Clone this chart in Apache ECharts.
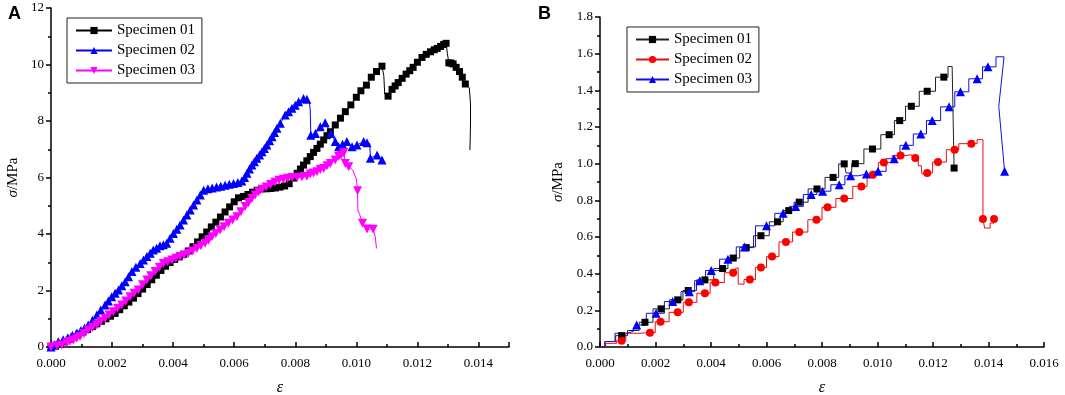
<!DOCTYPE html>
<html>
<head>
<meta charset="utf-8">
<script src="https://cdn.jsdelivr.net/npm/echarts@6/dist/echarts.min.js"></script>
<style>
  html, body { margin: 0; padding: 0; background: #fff; }
  #chartA { position: absolute; left: 0; top: 0; width: 530px; height: 395px; }
  #chartB { position: absolute; left: 530px; top: 0; width: 535px; height: 395px; }
</style>
</head>
<body>
<div id="chartA"></div>
<div id="chartB"></div>
<script>
// each point: [strain, stress (MPa), marker shown 1/0]
// panel A
var a01 = [
  [0.00000,0.00,1],[0.00015,0.03,1],[0.00030,0.10,1],[0.00045,0.18,1],[0.00060,0.27,1],[0.00075,0.36,1],
  [0.00090,0.45,1],[0.00105,0.53,1],[0.00120,0.62,1],[0.00135,0.72,1],[0.00150,0.82,1],[0.00165,0.91,1],
  [0.00180,1.00,1],[0.00195,1.09,1],[0.00210,1.19,1],[0.00225,1.32,1],[0.00240,1.46,1],[0.00255,1.59,1],
  [0.00270,1.73,1],[0.00285,1.89,1],[0.00300,2.05,1],[0.00315,2.21,1],[0.00330,2.38,1],[0.00345,2.54,1],
  [0.00360,2.71,1],[0.00375,2.86,1],[0.00390,2.99,1],[0.00405,3.10,1],[0.00420,3.19,1],[0.00435,3.28,1],
  [0.00450,3.40,1],[0.00465,3.55,1],[0.00480,3.72,1],[0.00495,3.90,1],[0.00510,4.07,1],[0.00525,4.25,1],
  [0.00540,4.42,1],[0.00555,4.60,1],[0.00570,4.78,1],[0.00585,4.96,1],[0.00600,5.14,1],[0.00614,5.28,1],
  [0.00630,5.33,1],[0.00645,5.40,1],[0.00660,5.48,1],[0.00675,5.55,1],[0.00690,5.60,1],[0.00705,5.60,1],
  [0.00720,5.61,1],[0.00735,5.63,1],[0.00750,5.66,1],[0.00765,5.70,1],[0.00780,5.78,1],[0.00795,5.98,1],
  [0.00806,6.15,1],[0.00817,6.30,1],[0.00827,6.44,1],[0.00838,6.59,1],[0.00849,6.74,1],[0.00860,6.89,1],
  [0.00871,7.03,1],[0.00882,7.18,1],[0.00893,7.33,1],[0.00904,7.48,1],[0.00915,7.62,1],[0.00931,7.86,1],
  [0.00948,8.10,1],[0.00964,8.33,1],[0.00982,8.57,1],[0.01000,8.84,1],[0.01015,9.07,1],[0.01033,9.27,1],
  [0.01049,9.55,1],[0.01066,9.75,1],[0.01084,9.94,1],[0.01090,9.60,0],[0.01093,8.95,0],[0.01104,8.88,1],
  [0.01117,9.12,1],[0.01127,9.24,1],[0.01137,9.36,1],[0.01150,9.51,1],[0.01163,9.66,1],[0.01175,9.78,1],
  [0.01186,9.90,1],[0.01200,10.08,1],[0.01215,10.25,1],[0.01229,10.36,1],[0.01243,10.45,1],[0.01255,10.52,1],
  [0.01265,10.57,1],[0.01276,10.64,1],[0.01286,10.71,1],[0.01294,10.75,1],[0.01298,10.40,0],[0.01303,10.06,1],
  [0.01310,10.05,1],[0.01317,10.02,1],[0.01327,9.90,1],[0.01338,9.75,1],[0.01347,9.55,1],[0.01357,9.31,1],
  [0.01370,9.18,0],[0.01374,8.60,0],[0.01374,8.00,0],[0.01373,7.40,0],[0.01372,6.97,0]
];
var a02 = [
  [0.00000,0.00,1],[0.00012,0.08,1],[0.00024,0.19,1],[0.00040,0.26,1],[0.00055,0.33,1],[0.00070,0.42,1],
  [0.00085,0.50,1],[0.00098,0.58,1],[0.00110,0.67,1],[0.00122,0.78,1],[0.00136,0.95,1],[0.00150,1.13,1],
  [0.00163,1.31,1],[0.00177,1.49,1],[0.00188,1.63,1],[0.00199,1.78,1],[0.00210,1.90,1],[0.00221,2.02,1],
  [0.00232,2.17,1],[0.00243,2.31,1],[0.00254,2.49,1],[0.00265,2.67,1],[0.00278,2.82,1],[0.00292,2.96,1],
  [0.00303,3.08,1],[0.00314,3.20,1],[0.00325,3.32,1],[0.00335,3.43,1],[0.00346,3.50,1],[0.00357,3.58,1],
  [0.00368,3.62,1],[0.00379,3.67,1],[0.00390,3.85,1],[0.00401,4.02,1],[0.00412,4.17,1],[0.00423,4.32,1],
  [0.00434,4.50,1],[0.00445,4.67,1],[0.00456,4.85,1],[0.00467,5.03,1],[0.00478,5.20,1],[0.00489,5.38,1],
  [0.00500,5.55,1],[0.00514,5.60,1],[0.00528,5.63,1],[0.00542,5.66,1],[0.00556,5.69,1],[0.00570,5.73,1],
  [0.00584,5.76,1],[0.00598,5.79,1],[0.00612,5.82,1],[0.00625,5.88,1],[0.00634,6.00,1],[0.00642,6.15,1],
  [0.00650,6.30,1],[0.00658,6.44,1],[0.00666,6.56,1],[0.00674,6.68,1],[0.00683,6.80,1],[0.00691,6.91,1],
  [0.00699,7.03,1],[0.00707,7.15,1],[0.00716,7.30,1],[0.00724,7.44,1],[0.00732,7.59,1],[0.00740,7.74,1],
  [0.00751,7.92,1],[0.00767,8.21,1],[0.00778,8.33,1],[0.00789,8.45,1],[0.00800,8.56,1],[0.00811,8.68,1],
  [0.00827,8.80,1],[0.00838,8.77,1],[0.00846,8.70,0],[0.00849,8.39,0],[0.00851,7.50,1],[0.00866,7.56,1],
  [0.00882,7.80,1],[0.00898,7.94,1],[0.00917,7.56,1],[0.00931,7.27,1],[0.00942,7.09,1],[0.00955,7.18,1],
  [0.00969,7.27,1],[0.00986,7.09,1],[0.01002,7.15,1],[0.01024,7.27,1],[0.01035,7.23,1],[0.01044,7.20,0],
  [0.01046,6.68,1],[0.01068,6.80,1],[0.01084,6.62,1]
];
var a03 = [
  [0.00000,0.00,1],[0.00020,0.04,1],[0.00035,0.07,1],[0.00051,0.15,1],[0.00062,0.20,1],[0.00073,0.25,1],
  [0.00084,0.31,1],[0.00095,0.37,1],[0.00108,0.48,1],[0.00122,0.60,1],[0.00136,0.69,1],[0.00150,0.78,1],
  [0.00163,0.90,1],[0.00177,1.01,1],[0.00190,1.13,1],[0.00204,1.25,1],[0.00218,1.37,1],[0.00232,1.49,1],
  [0.00245,1.63,1],[0.00259,1.78,1],[0.00272,1.90,1],[0.00286,2.02,1],[0.00300,2.20,1],[0.00314,2.37,1],
  [0.00327,2.52,1],[0.00341,2.67,1],[0.00355,2.82,1],[0.00368,2.96,1],[0.00382,3.02,1],[0.00396,3.08,1],
  [0.00409,3.14,1],[0.00423,3.20,1],[0.00436,3.26,1],[0.00450,3.32,1],[0.00464,3.40,1],[0.00478,3.49,1],
  [0.00491,3.58,1],[0.00505,3.67,1],[0.00516,3.78,1],[0.00527,3.90,1],[0.00540,4.02,1],[0.00554,4.14,1],
  [0.00567,4.26,1],[0.00581,4.38,1],[0.00595,4.50,1],[0.00609,4.61,1],[0.00622,4.79,1],[0.00636,4.97,1],
  [0.00647,5.11,1],[0.00658,5.26,1],[0.00669,5.38,1],[0.00680,5.50,1],[0.00692,5.58,1],[0.00705,5.66,1],
  [0.00719,5.75,1],[0.00733,5.83,1],[0.00747,5.90,1],[0.00761,5.94,1],[0.00775,5.97,1],[0.00790,6.00,1],
  [0.00806,6.00,1],[0.00822,6.02,1],[0.00838,6.04,1],[0.00849,6.12,1],[0.00860,6.16,1],[0.00871,6.20,1],
  [0.00882,6.28,1],[0.00893,6.32,1],[0.00904,6.42,1],[0.00915,6.50,1],[0.00931,6.62,1],[0.00942,6.74,1],
  [0.00950,6.80,1],[0.00959,6.88,1],[0.00964,6.50,1],[0.00975,6.38,1],[0.00988,6.27,0],[0.01000,5.95,0],
  [0.01004,5.53,1],[0.01005,4.85,0],[0.01010,4.72,0],[0.01020,4.38,1],[0.01035,4.18,1],[0.01055,4.17,1],
  [0.01062,3.90,0],[0.01066,3.49,0]
];
// panel B
var b01 = [
  [0.00000,0.000,0],[0.00035,0.030,0],[0.00078,0.062,1],[0.00120,0.090,0],[0.00162,0.135,1],[0.00220,0.208,1],
  [0.00280,0.257,1],[0.00318,0.308,1],[0.00378,0.366,1],[0.00442,0.428,1],[0.00480,0.485,1],[0.00527,0.542,1],
  [0.00580,0.607,1],[0.00640,0.683,1],[0.00680,0.744,1],[0.00718,0.790,1],[0.00782,0.862,1],[0.00840,0.925,1],
  [0.00880,0.999,1],[0.00894,0.949,0],[0.00920,1.000,1],[0.00982,1.080,1],[0.01042,1.158,1],[0.01080,1.235,1],
  [0.01122,1.313,1],[0.01179,1.395,1],[0.01239,1.472,1],[0.01269,1.530,0],[0.01276,1.532,0],[0.01276,0.976,1]
];
var b02 = [
  [0.00000,0.000,0],[0.00040,0.020,0],[0.00078,0.034,1],[0.00108,0.075,0],[0.00180,0.078,1],[0.00218,0.138,1],
  [0.00280,0.189,1],[0.00320,0.244,1],[0.00378,0.293,1],[0.00416,0.352,1],[0.00480,0.405,1],[0.00498,0.430,0],
  [0.00498,0.343,0],[0.00540,0.368,1],[0.00580,0.434,1],[0.00620,0.493,1],[0.00670,0.573,1],[0.00718,0.627,1],
  [0.00780,0.694,1],[0.00820,0.762,1],[0.00880,0.810,1],[0.00942,0.876,1],[0.00983,0.940,1],[0.01023,1.007,1],
  [0.01083,1.044,1],[0.01122,1.049,0],[0.01136,1.031,1],[0.01158,0.989,0],[0.01161,0.945,0],[0.01179,0.949,1],
  [0.01218,1.009,1],[0.01278,1.076,1],[0.01308,1.109,0],[0.01338,1.109,1],[0.01380,1.131,0],[0.01380,0.698,1],
  [0.01392,0.649,0],[0.01420,0.676,0],[0.01420,0.698,1]
];
var b03 = [
  [0.00000,0.000,0],[0.00036,0.030,0],[0.00072,0.075,0],[0.00120,0.085,0],[0.00132,0.120,1],[0.00202,0.184,1],
  [0.00262,0.248,1],[0.00322,0.302,1],[0.00360,0.362,1],[0.00401,0.417,1],[0.00461,0.479,1],[0.00521,0.546,1],
  [0.00600,0.661,1],[0.00660,0.729,1],[0.00705,0.767,1],[0.00761,0.832,1],[0.00802,0.850,1],[0.00862,0.885,1],
  [0.00903,0.934,1],[0.00960,0.943,1],[0.01002,0.958,1],[0.01060,1.027,1],[0.01102,1.100,1],[0.01156,1.162,1],
  [0.01197,1.235,1],[0.01258,1.310,1],[0.01299,1.392,1],[0.01359,1.463,1],[0.01398,1.528,1],[0.01456,1.583,0]
];
var b03tail = [[0.01456,1.583,0],[0.01437,1.313,0],[0.01458,0.958,1]];

var names = ['Specimen 01', 'Specimen 02', 'Specimen 03'];
var yTicksA = [0, 12, 2];
var yTicksB = [0, 1.8, 0.2];
var xTicksA = [0, 0.015, 0.002];
var xTicksB = [0, 0.016, 0.002];

var serif = 'Liberation Serif';
var downTri = 'path://M0,0 L10,0 L5,9 Z';

function pts(arr) {
  return arr.map(function (p) {
    var d = { value: [p[0], p[1]] };
    if (!p[2]) d.symbol = 'none';
    return d;
  });
}

function isMajor(v, step) {
  return Math.abs(v / step - Math.round(v / step)) < 1e-6;
}

function axes(xt, yt, yDigits, yGap) {
  return {
    xAxis: {
      type: 'value', min: xt[0], max: xt[1], interval: xt[2],
      name: 'ε', nameLocation: 'middle', nameGap: 33,
      nameTextStyle: { fontFamily: serif, fontStyle: 'italic', fontSize: 16, color: '#000' },
      axisLine: { onZero: false, lineStyle: { color: '#000', width: 1.5 } },
      axisTick: { inside: true, length: 5, lineStyle: { color: '#000', width: 1.5 } },
      minorTick: { show: true, splitNumber: 2, length: 3, lineStyle: { color: '#000', width: 1.5 } },
      axisLabel: {
        margin: 10, fontFamily: serif, fontSize: 13, color: '#000',
        formatter: function (v) { return isMajor(v, xt[2]) ? v.toFixed(3) : ''; }
      },
      splitLine: { show: false }
    },
    yAxis: {
      type: 'value', min: yt[0], max: yt[1], interval: yt[2],
      name: '{i|σ}/MPa', nameLocation: 'middle', nameGap: yGap,
      nameTextStyle: {
        fontFamily: serif, fontSize: 15, color: '#000',
        rich: { i: { fontFamily: serif, fontStyle: 'italic', fontSize: 15, color: '#000' } }
      },
      axisLine: { show: true, onZero: false, lineStyle: { color: '#000', width: 1.5 } },
      axisTick: { show: true, length: 5, lineStyle: { color: '#000', width: 1.5 } },
      minorTick: { show: true, splitNumber: 2, length: 3, lineStyle: { color: '#000', width: 1.5 } },
      axisLabel: {
        margin: 7, fontFamily: serif, fontSize: 13, color: '#000',
        formatter: function (v) { return v.toFixed(yDigits); }
      },
      splitLine: { show: false }
    }
  };
}

function legendAt(left, top, w) {
  return {
    orient: 'vertical', left: left, top: top,
    data: names,
    backgroundColor: '#fff', borderColor: '#222', borderWidth: 1, borderRadius: 0,
    padding: [5, 7, 5, 8], itemGap: 5, itemWidth: w, itemHeight: 9,
    textStyle: { fontFamily: serif, fontSize: 15, color: '#000' }
  };
}

function title(t) {
  return {
    text: t, left: 8, top: 5, padding: 0,
    textStyle: { fontFamily: 'Liberation Sans', fontWeight: 'bold', fontSize: 18, color: '#000' }
  };
}

// ---- panel A ----
var chartA = echarts.init(document.getElementById('chartA'));
var axA = axes(xTicksA, yTicksA, 0, 22);
chartA.setOption({
  animation: false,
  title: title('A'),
  grid: { left: 51, top: 8, right: 21, bottom: 48, outerBoundsMode: 'none' },
  legend: legendAt(67, 18, 36),
  xAxis: axA.xAxis,
  yAxis: axA.yAxis,
  series: [
    { name: names[0], type: 'line', data: pts(a01), symbol: 'rect', symbolSize: 7,
      color: '#000', lineStyle: { width: 1, color: '#000' } },
    { name: names[1], type: 'line', data: pts(a02), symbol: 'triangle', symbolSize: 9,
      color: '#0000ff', lineStyle: { width: 1, color: '#0000ff' } },
    { name: names[2], type: 'line', data: pts(a03), symbol: downTri, symbolSize: 9,
      color: '#ff00ff', lineStyle: { width: 1, color: '#ff00ff' } }
  ]
});

// ---- panel B ----
var chartB = echarts.init(document.getElementById('chartB'));
var axB = axes(xTicksB, yTicksB, 1, 34);
chartB.setOption({
  animation: false,
  title: title('B'),
  grid: { left: 70, top: 17, right: 21, bottom: 48, outerBoundsMode: 'none' },
  legend: legendAt(97, 27, 33),
  xAxis: axB.xAxis,
  yAxis: axB.yAxis,
  series: [
    { name: names[0], type: 'line', step: 'middle', data: pts(b01), symbol: 'rect', symbolSize: 7,
      color: '#000', lineStyle: { width: 1, color: '#222' } },
    { name: names[1], type: 'line', step: 'middle', data: pts(b02), symbol: 'circle', symbolSize: 8,
      color: '#ff0000', lineStyle: { width: 1, color: '#e01010' } },
    { name: names[2], type: 'line', step: 'middle', data: pts(b03), symbol: 'triangle', symbolSize: 9,
      color: '#0000ff', lineStyle: { width: 1, color: '#1010e0' } },
    { name: 'tail', type: 'line', data: pts(b03tail), symbol: 'triangle', symbolSize: 9,
      color: '#0000ff', lineStyle: { width: 1, color: '#1010e0' } }
  ]
});
</script>
</body>
</html>
